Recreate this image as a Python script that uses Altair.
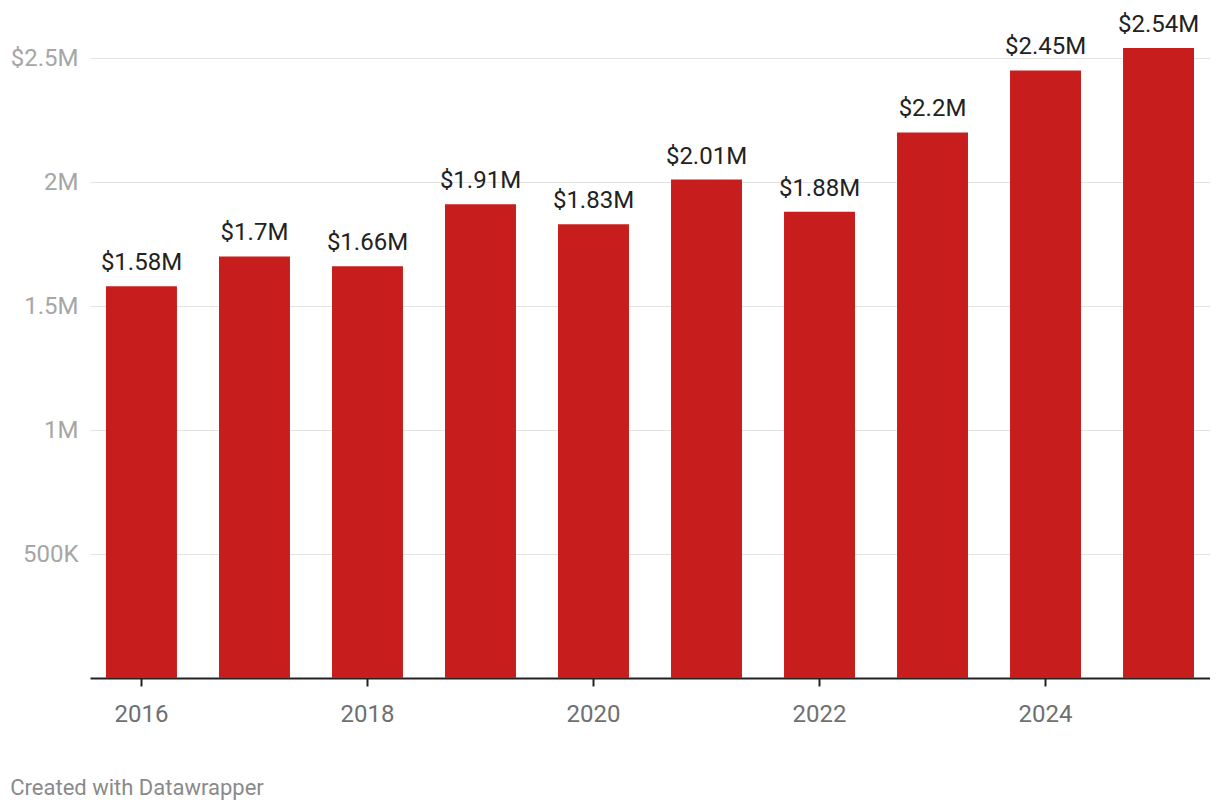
import altair as alt
import pandas as pd

years = [2016, 2017, 2018, 2019, 2020, 2021, 2022, 2023, 2024, 2025]
values = [1580000, 1700000, 1660000, 1910000, 1830000, 2010000, 1880000, 2200000, 2450000, 2540000]
x_tick_years = [2016, 2018, 2020, 2022, 2024]
y_ticks = [500000, 1000000, 1500000, 2000000, 2500000]

df = pd.DataFrame({"year": years, "value": values})

FONT = "Roboto"

x = alt.X(
    "year:O",
    title=None,
    scale=alt.Scale(paddingInner=0.372, paddingOuter=0.1416),
    axis=alt.Axis(
        values=x_tick_years,
        labelAngle=0,
        labelFont=FONT,
        labelFontSize=24,
        labelColor="#707070",
        labelPadding=16,
        tickColor="#222222",
        tickWidth=2,
        tickSize=8,
        domainColor="#222222",
        domainWidth=2,
        grid=False,
    ),
)

y = alt.Y(
    "value:Q",
    title=None,
    scale=alt.Scale(domain=[0, 2500000], nice=False),
    axis=alt.Axis(
        values=y_ticks,
        labelExpr="datum.value >= 2500000 ? '$2.5M' : datum.value >= 1000000 ? format(datum.value/1000000, '') + 'M' : format(datum.value/1000, '') + 'K'",
        labelFont=FONT,
        labelFontSize=24,
        labelColor="#a6a6a6",
        labelPadding=12,
        ticks=False,
        domain=False,
        grid=True,
        gridColor="#e3e3e3",
        gridWidth=1,
    ),
)

base = alt.Chart(df)

bars = base.mark_bar(color="#c71e1d").encode(x=x, y=y)

labels = base.transform_calculate(
    label="'$' + format(datum.value/1000000, '.3~g') + 'M'"
).mark_text(
    font=FONT, fontSize=24, color="#222222", baseline="alphabetic", dy=-16
).encode(x=x, y=y, text="label:N")

chart = (
    alt.layer(bars, labels)
    .properties(
        width=1120,
        height=620,
        autosize=alt.AutoSizeParams(type="none"),
        padding={"left": 82, "top": 50, "right": 0, "bottom": 123},
        title=alt.TitleParams(
            text="Created with Datawrapper",
            orient="bottom",
            anchor="start",
            offset=52,
            font=FONT,
            fontSize=22,
            fontWeight="normal",
            color="#8a8a8a",
        ),
    )
    .configure_view(stroke=None)
)

chart.save("out.html", embed_options={"renderer": "svg", "actions": False})
